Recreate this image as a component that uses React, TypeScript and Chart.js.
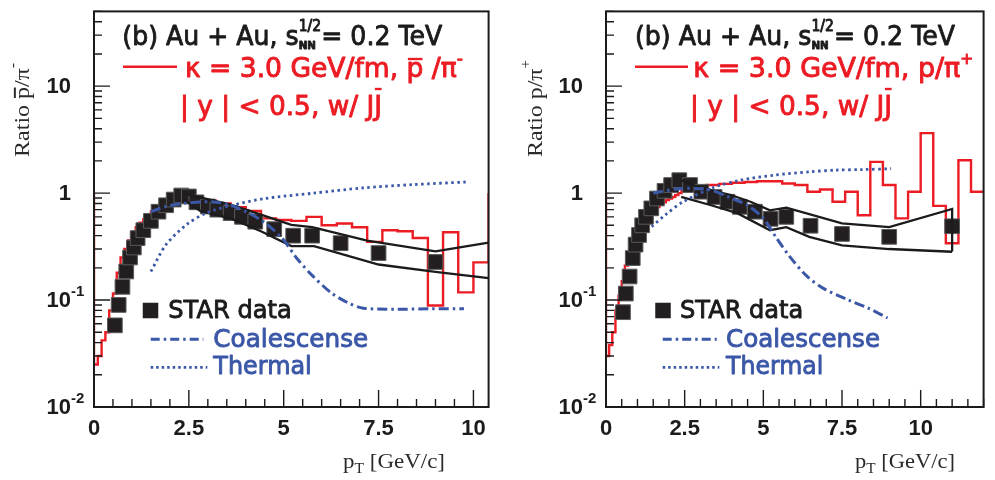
import React, { useEffect, useRef } from "react";
import { Chart, registerables } from "chart.js";

Chart.register(...registerables);

// ---------------- data ----------------
const xTickValues = [0, 2.5, 5, 7.5, 10];
const yMajorTicks = [0.01, 0.1, 1, 10];
const yMinorMultipliers = [2, 3, 4, 5, 6, 7, 8, 9];
const yTickBases = ["10", "10", "1", "10"];
const yTickExps = ["-2", "-1", "", ""];

// left panel: pbar / pi-
const leftStarX = [0.55, 0.65, 0.75, 0.85, 0.95, 1.05, 1.15, 1.3, 1.5, 1.7, 1.9, 2.1, 2.3, 2.5, 2.7, 3.0, 3.25, 3.6, 3.9, 4.25, 4.75, 5.25, 5.75, 6.5, 7.5, 9.0];
const leftStarY = [0.058, 0.09, 0.133, 0.185, 0.25, 0.31, 0.38, 0.45, 0.55, 0.67, 0.77, 0.87, 0.95, 0.93, 0.82, 0.75, 0.7, 0.65, 0.6, 0.54, 0.46, 0.4, 0.4, 0.34, 0.275, 0.227];

const leftHistEdges = [0, 0.1, 0.2, 0.3, 0.4, 0.5, 0.6, 0.7, 0.8, 0.9, 1.0, 1.1, 1.2, 1.3, 1.4, 1.5, 1.6, 1.7, 1.8, 1.9, 2.0, 2.1, 2.2, 2.3, 2.4, 2.8, 3.2, 3.6, 4.0, 4.4, 4.8, 5.2, 5.6, 6.0, 6.4, 6.8, 7.2, 7.6, 8.0, 8.4, 8.8, 9.2, 9.6, 10.0, 10.4];
const leftHistValues = [0.025, 0.03, 0.042, 0.05, 0.08, 0.115, 0.18, 0.25, 0.3, 0.36, 0.42, 0.48, 0.53, 0.57, 0.62, 0.67, 0.71, 0.74, 0.76, 0.78, 0.78, 0.8, 0.82, 0.85,
  0.92, 0.86, 0.8, 0.74, 0.68, 0.58, 0.56, 0.55, 0.6, 0.5, 0.52, 0.48, 0.35, 0.45, 0.44, 0.38, 0.089, 0.43, 0.118, 0.225];
const leftHistStart = 1;
const leftHistEnd = 1;

const leftUpperX = [2.35, 2.8, 3.6, 4.4, 5.2, 5.75, 7.2, 9.0, 10.4];
const leftUpperY = [1.0, 0.91, 0.78, 0.63, 0.505, 0.48, 0.36, 0.285, 0.345];
const leftLowerX = [2.35, 2.8, 3.6, 4.4, 5.2, 5.8, 7.5, 9.0, 10.4];
const leftLowerY = [0.88, 0.68, 0.58, 0.44, 0.32, 0.32, 0.215, 0.183, 0.16];

const leftCoalX = [1.5, 1.9, 2.35, 3.1, 3.65, 4.4, 4.95, 5.35, 5.75, 6.25, 6.7, 7.1, 8.0, 8.9, 9.75];
const leftCoalY = [0.67, 0.75, 0.8, 0.83, 0.76, 0.56, 0.38, 0.245, 0.17, 0.117, 0.094, 0.084, 0.082, 0.083, 0.083];
const leftThermX = [1.5, 1.9, 2.45, 2.95, 3.65, 4.5, 5.8, 7.1, 8.4, 9.8];
const leftThermY = [0.185, 0.33, 0.51, 0.65, 0.77, 0.89, 1.0, 1.12, 1.2, 1.27];

// right panel: p / pi+
const rightStarX = [0.54, 0.63, 0.75, 0.85, 0.94, 1.05, 1.15, 1.27, 1.44, 1.62, 1.86, 2.07, 2.33, 2.67, 3.03, 3.45, 3.86, 4.25, 4.73, 5.23, 5.73, 6.5, 7.5, 9.0, 11.0];
const rightStarY = [0.077, 0.115, 0.166, 0.247, 0.33, 0.406, 0.5, 0.6, 0.72, 0.89, 1.05, 1.19, 1.32, 1.19, 1.03, 0.92, 0.83, 0.745, 0.67, 0.575, 0.6, 0.495, 0.415, 0.39, 0.49];

const rightHistEdges = [0, 0.1, 0.2, 0.3, 0.4, 0.5, 0.6, 0.7, 0.8, 0.9, 1.0, 1.1, 1.2, 1.3, 1.4, 1.5, 1.6, 1.7, 1.8, 1.9, 2.0, 2.1, 2.2, 2.3, 2.4, 2.8, 3.2, 3.6, 4.0, 4.4, 4.8, 5.2, 5.6, 6.0, 6.4, 6.8, 7.2, 7.6, 8.0, 8.4, 8.8, 9.2, 9.6, 10.0, 10.4, 10.8, 11.2, 11.6, 12.0];
const rightHistValues = [0.03, 0.038, 0.05, 0.08, 0.11, 0.15, 0.21, 0.28, 0.33, 0.4, 0.45, 0.5, 0.55, 0.6, 0.65, 0.7, 0.74, 0.78, 0.82, 0.86, 0.89, 0.92, 0.96, 1.0,
  1.05, 1.15, 1.19, 1.22, 1.25, 1.27, 1.29, 1.29, 1.23, 1.19, 1.03, 1.08, 0.83, 1.03, 0.62, 1.96, 1.19, 0.58, 1.03, 3.64, 0.76, 0.34, 2.03, 1.03];
const rightHistStart = 1;
const rightHistEnd = null;

const rightUpperX = [2.39, 2.93, 3.97, 4.59, 5.21, 5.73, 7.5, 9.0, 11.0, 11.0];
const rightUpperY = [1.32, 1.14, 0.96, 0.83, 0.69, 0.73, 0.52, 0.48, 0.71, 0.285];
const rightLowerX = [2.39, 3.34, 4.17, 5.21, 5.73, 6.46, 7.5, 9.0, 11.0];
const rightLowerY = [0.92, 0.77, 0.65, 0.45, 0.48, 0.39, 0.325, 0.3, 0.283];

const rightCoalX = [1.5, 2.33, 3.03, 3.34, 3.97, 4.49, 5.0, 5.42, 5.84, 6.36, 6.88, 7.71, 8.33, 8.95];
const rightCoalY = [1.0, 1.1, 1.1, 1.07, 0.9, 0.77, 0.58, 0.38, 0.255, 0.17, 0.13, 0.1, 0.084, 0.068];
const rightThermX = [1.45, 1.9, 2.45, 3.45, 4.28, 5.32, 6.46, 7.29, 8.12, 9.06];
const rightThermY = [0.486, 0.63, 0.83, 1.14, 1.32, 1.47, 1.58, 1.64, 1.66, 1.69];

// ---------------- styling ----------------
const RED = "#ec1c24";
const BLUE = "#3b57a7";
const BLACK = "#1b1b1b";
const SANS = '"DejaVu Sans"';
const SERIF = '"Liberation Serif"';
const LABEL = '"Liberation Sans"';

type Seg = { t: string; size: number; dy?: number; bar?: number; weight?: string; noAdvance?: boolean };
type TextItem = { segs: Seg[]; x: number; y: number; w: number; color: string; family: string; rotate?: boolean; thick?: number };

type Panel = {
  width: number;
  chartLeft: number;
  padRight: number;
  xMax: number;
  starX: number[]; starY: number[];
  histEdges: number[]; histValues: number[]; histStart: number | null; histEnd: number | null;
  upperX: number[]; upperY: number[]; lowerX: number[]; lowerY: number[];
  coalX: number[]; coalY: number[]; thermX: number[]; thermY: number[];
  texts: TextItem[];
  redDash: [number, number, number];
  legendSquare: [number, number, number];
  coalLine: [number, number, number];
  thermLine: [number, number, number];
};

const zip = (xs: number[], ys: number[]) => xs.map((x, i) => ({ x, y: ys[i] }));

function buildHist(edges: number[], values: number[], start: number | null, end: number | null) {
  const pts: { x: number; y: number }[] = [];
  if (start != null) pts.push({ x: edges[0], y: start });
  for (let i = 0; i < values.length; i++) {
    pts.push({ x: edges[i], y: values[i] });
    pts.push({ x: edges[i + 1], y: values[i] });
  }
  if (end != null) pts.push({ x: edges[edges.length - 1], y: end });
  return pts;
}

function drawRich(ctx: CanvasRenderingContext2D, item: TextItem) {
  const { segs, x, y, w: targetW, color, family, rotate, thick } = item;
  const fontOf = (s: Seg) => `${s.weight || "normal"} ${s.size}px ${family}`;
  let natural = 0;
  let pending = 0;
  for (const s of segs) {
    ctx.font = fontOf(s);
    const w = ctx.measureText(s.t).width;
    if (s.noAdvance) { pending = w; continue; }
    natural += Math.max(w, pending);
    pending = 0;
  }
  const k = targetW ? targetW / natural : 1;
  ctx.save();
  ctx.translate(x, y);
  if (rotate) ctx.rotate(-Math.PI / 2);
  ctx.scale(k, 1);
  ctx.fillStyle = color;
  ctx.strokeStyle = color;
  ctx.textAlign = "left";
  ctx.textBaseline = "alphabetic";
  ctx.lineJoin = "round";
  let cx = 0;
  pending = 0;
  for (const s of segs) {
    ctx.font = fontOf(s);
    const w = ctx.measureText(s.t).width;
    ctx.fillText(s.t, cx, s.dy || 0);
    if (thick) {
      ctx.lineWidth = thick;
      ctx.strokeText(s.t, cx, s.dy || 0);
    }
    if (s.bar) {
      ctx.lineWidth = Math.max(1.4, s.size * 0.09);
      ctx.beginPath();
      ctx.moveTo(cx + w * 0.08, -s.size * s.bar);
      ctx.lineTo(cx + w * 0.95, -s.size * s.bar);
      ctx.stroke();
    }
    if (s.noAdvance) { pending = w; continue; }
    cx += Math.max(w, pending);
    pending = 0;
  }
  ctx.restore();
}

function makeDecor(p: Panel) {
  return {
    id: "decor",
    afterDatasetsDraw(chart: any) {
      const ctx: CanvasRenderingContext2D = chart.ctx;
      const a = chart.chartArea;
      const xs = chart.scales.x;
      const ys = chart.scales.y;
      ctx.save();
      // tick marks
      ctx.strokeStyle = BLACK;
      ctx.lineWidth = 1.4;
      ctx.beginPath();
      for (const dec of yMajorTicks) {
        const py = ys.getPixelForValue(dec);
        ctx.moveTo(a.left, py);
        ctx.lineTo(a.left + 16, py);
        for (const m of yMinorMultipliers) {
          const v = dec * m;
          if (v > ys.max * 1.0001) break;
          const q = ys.getPixelForValue(v);
          ctx.moveTo(a.left, q);
          ctx.lineTo(a.left + 8, q);
        }
      }
      for (let i = 0; i * 0.5 <= xs.max + 1e-9; i++) {
        const v = i * 0.5;
        const px = xs.getPixelForValue(v);
        const major = i % 5 === 0;
        ctx.moveTo(px, a.bottom);
        ctx.lineTo(px, a.bottom - (major ? 17 : 8));
      }
      ctx.stroke();
      // frame
      ctx.lineWidth = 2;
      ctx.strokeRect(a.left, a.top, a.right - a.left, a.bottom - a.top);

      // y tick labels
      ctx.fillStyle = BLACK;
      for (let i = 0; i < yMajorTicks.length; i++) {
        const py = ys.getPixelForValue(yMajorTicks[i]);
        ctx.font = `bold 22px ${LABEL}`;
        ctx.textAlign = "right";
        ctx.textBaseline = "middle";
        ctx.fillText(yTickBases[i], a.left - 23, py + 1);
        if (yTickExps[i]) {
          ctx.font = `bold 15px ${LABEL}`;
          ctx.textAlign = "left";
          ctx.fillText(yTickExps[i], a.left - 23, py - 8);
        }
      }

      // red legend dash
      ctx.strokeStyle = RED;
      ctx.lineWidth = 2.5;
      ctx.beginPath();
      ctx.moveTo(p.redDash[0], p.redDash[2]);
      ctx.lineTo(p.redDash[1], p.redDash[2]);
      ctx.stroke();

      // legend square
      const [sx, sy, ss] = p.legendSquare;
      ctx.fillStyle = "#231f20";
      ctx.fillRect(sx - ss / 2, sy - ss / 2, ss, ss);

      // legend lines
      ctx.strokeStyle = BLUE;
      ctx.lineWidth = 3;
      ctx.setLineDash([9, 4, 2.5, 4]);
      ctx.beginPath();
      ctx.moveTo(p.coalLine[0], p.coalLine[2]);
      ctx.lineTo(p.coalLine[1], p.coalLine[2]);
      ctx.stroke();
      ctx.lineWidth = 2.8;
      ctx.setLineDash([2.5, 3]);
      ctx.beginPath();
      ctx.moveTo(p.thermLine[0], p.thermLine[2]);
      ctx.lineTo(p.thermLine[1], p.thermLine[2]);
      ctx.stroke();
      ctx.setLineDash([]);

      for (const t of p.texts) drawRich(ctx, t);
      ctx.restore();
    },
  };
}

function makeConfig(p: Panel): any {
  return {
    type: "line",
    data: {
      datasets: [
        {
          label: "STAR data",
          data: zip(p.starX, p.starY),
          showLine: false,
          pointStyle: "rect",
          pointRadius: 10.4,
          pointBackgroundColor: "#231f20",
          pointBorderColor: "#5a5a5a",
          pointBorderWidth: 1,
          order: 4,
        },
        {
          label: "kappa",
          data: buildHist(p.histEdges, p.histValues, p.histStart, p.histEnd),
          borderColor: RED,
          borderWidth: 2.4,
          pointRadius: 0,
          tension: 0,
          fill: false,
          order: 5,
        },
        {
          label: "upper",
          data: zip(p.upperX, p.upperY),
          borderColor: BLACK,
          borderWidth: 2.3,
          pointRadius: 0,
          tension: 0,
          order: 3,
        },
        {
          label: "lower",
          data: zip(p.lowerX, p.lowerY),
          borderColor: BLACK,
          borderWidth: 2.3,
          pointRadius: 0,
          tension: 0,
          order: 3,
        },
        {
          label: "Coalescense",
          data: zip(p.coalX, p.coalY),
          borderColor: BLUE,
          borderWidth: 3,
          borderDash: [10, 4, 2.5, 4],
          pointRadius: 0,
          tension: 0.3,
          order: 2,
        },
        {
          label: "Thermal",
          data: zip(p.thermX, p.thermY),
          borderColor: BLUE,
          borderWidth: 2.8,
          borderDash: [2.5, 3.5],
          pointRadius: 0,
          tension: 0.3,
          order: 1,
        },
      ],
    },
    options: {
      animation: false,
      responsive: false,
      events: [],
      layout: { padding: { left: 0, right: p.padRight, top: 10, bottom: 0 } },
      plugins: { legend: { display: false }, tooltip: { enabled: false } },
      scales: {
        x: {
          type: "linear",
          min: 0,
          max: p.xMax,
          grid: { display: false, drawTicks: false },
          border: { display: false },
          afterBuildTicks: (s: any) => {
            s.ticks = xTickValues.map((v) => ({ value: v }));
          },
          afterFit: (s: any) => {
            s.height = 73;
          },
          ticks: {
            padding: 9,
            autoSkip: false,
            maxRotation: 0,
            color: BLACK,
            font: { family: "Liberation Sans", weight: "bold", size: 22 },
            callback: (v: any) => String(v),
          },
        },
        y: {
          type: "logarithmic",
          min: 0.01,
          max: 50,
          grid: { display: false, drawTicks: false },
          border: { display: false },
          ticks: { display: false },
          afterFit: (s: any) => {
            s.width = p.chartLeft;
          },
        },
      },
    },
    plugins: [makeDecor(p)],
  };
}

const TH = 0.9;

const line1 = (x: number): TextItem => ({
  segs: [
    { t: "(b) Au + Au, s", size: 27 },
    { t: "NN", size: 11, dy: 4, weight: "bold", noAdvance: true },
    { t: "1/2", size: 15, dy: -14 },
    { t: "= 0.2 TeV", size: 27 },
  ],
  x, y: 45, w: 320, color: BLACK, family: SANS, thick: TH,
});

const leftPanel: Panel = {
  width: 500, chartLeft: 94, padRight: 8, xMax: 10.4,
  starX: leftStarX, starY: leftStarY,
  histEdges: leftHistEdges, histValues: leftHistValues, histStart: leftHistStart, histEnd: leftHistEnd,
  upperX: leftUpperX, upperY: leftUpperY, lowerX: leftLowerX, lowerY: leftLowerY,
  coalX: leftCoalX, coalY: leftCoalY, thermX: leftThermX, thermY: leftThermY,
  redDash: [123, 177, 66.7],
  legendSquare: [150.5, 310.5, 15.5],
  coalLine: [150.7, 203.3, 339.3],
  thermLine: [150.7, 207.3, 367.3],
  texts: [
    line1(122.3),
    { segs: [{ t: "κ = 3.0 GeV/fm, ", size: 26 }, { t: "p", size: 26, bar: 0.68 }, { t: " /π", size: 26 }, { t: "-", size: 17, dy: -13 }], x: 185, y: 76.7, w: 278, color: RED, family: SANS, thick: TH },
    { segs: [{ t: "| y | < 0.5, w/ J", size: 26 }, { t: "J", size: 26, bar: 1.0 }], x: 180, y: 115, w: 202, color: RED, family: SANS, thick: TH },
    { segs: [{ t: "STAR data", size: 25 }], x: 168.3, y: 318.3, w: 123.4, color: BLACK, family: SANS, thick: TH },
    { segs: [{ t: "Coalescense", size: 25 }], x: 213.3, y: 346.7, w: 155, color: BLUE, family: SANS, thick: TH },
    { segs: [{ t: "Thermal", size: 25 }], x: 213.3, y: 374, w: 98.4, color: BLUE, family: SANS, thick: TH },
    { segs: [{ t: "Ratio ", size: 22 }, { t: "p", size: 22, bar: 0.62 }, { t: "/π", size: 22 }, { t: "-", size: 14, dy: -12 }], x: 28.5, y: 157, w: 94, color: "#2a2a2a", family: SERIF, rotate: true },
    { segs: [{ t: "p", size: 22 }, { t: "T", size: 15, dy: 5 }, { t: " [GeV/c]", size: 22 }], x: 343, y: 468, w: 102, color: "#2a2a2a", family: SERIF },
  ],
};

const rightPanel: Panel = {
  width: 495, chartLeft: 106, padRight: 1, xMax: 12,
  starX: rightStarX, starY: rightStarY,
  histEdges: rightHistEdges, histValues: rightHistValues, histStart: rightHistStart, histEnd: rightHistEnd,
  upperX: rightUpperX, upperY: rightUpperY, lowerX: rightLowerX, lowerY: rightLowerY,
  coalX: rightCoalX, coalY: rightCoalY, thermX: rightThermX, thermY: rightThermY,
  redDash: [135, 188, 66.7],
  legendSquare: [163, 310.5, 15.5],
  coalLine: [162.7, 216.7, 339.3],
  thermLine: [162.7, 219.3, 367.3],
  texts: [
    line1(135),
    { segs: [{ t: "κ = 3.0 GeV/fm, p/π", size: 26 }, { t: "+", size: 15, dy: -13 }], x: 193.3, y: 76.7, w: 280, color: RED, family: SANS, thick: TH },
    { segs: [{ t: "| y | < 0.5, w/ J", size: 26 }, { t: "J", size: 26, bar: 1.0 }], x: 190, y: 115, w: 202, color: RED, family: SANS, thick: TH },
    { segs: [{ t: "STAR data", size: 25 }], x: 180, y: 318.3, w: 123.3, color: BLACK, family: SANS, thick: TH },
    { segs: [{ t: "Coalescense", size: 25 }], x: 226, y: 346.7, w: 154, color: BLUE, family: SANS, thick: TH },
    { segs: [{ t: "Thermal", size: 25 }], x: 226, y: 374, w: 97.3, color: BLUE, family: SANS, thick: TH },
    { segs: [{ t: "Ratio p/π", size: 22 }, { t: "+", size: 14, dy: -12 }], x: 41.7, y: 157, w: 97, color: "#2a2a2a", family: SERIF, rotate: true },
    { segs: [{ t: "p", size: 22 }, { t: "T", size: 15, dy: 5 }, { t: " [GeV/c]", size: 22 }], x: 355, y: 468, w: 100, color: "#2a2a2a", family: SERIF },
  ],
};

function PanelChart({ panel, left }: { panel: Panel; left: number }) {
  const ref = useRef<HTMLCanvasElement | null>(null);
  useEffect(() => {
    if (!ref.current) return;
    const chart = new Chart(ref.current, makeConfig(panel));
    return () => chart.destroy();
  }, [panel]);
  return (
    <canvas
      ref={ref}
      width={panel.width}
      height={480}
      style={{ position: "absolute", left, top: 0, width: panel.width, height: 480 }}
    />
  );
}

export default function App() {
  return (
    <div style={{ position: "absolute", left: 0, top: 0, width: 995, height: 480, background: "#ffffff" }}>
      <PanelChart panel={leftPanel} left={0} />
      <PanelChart panel={rightPanel} left={500} />
    </div>
  );
}
